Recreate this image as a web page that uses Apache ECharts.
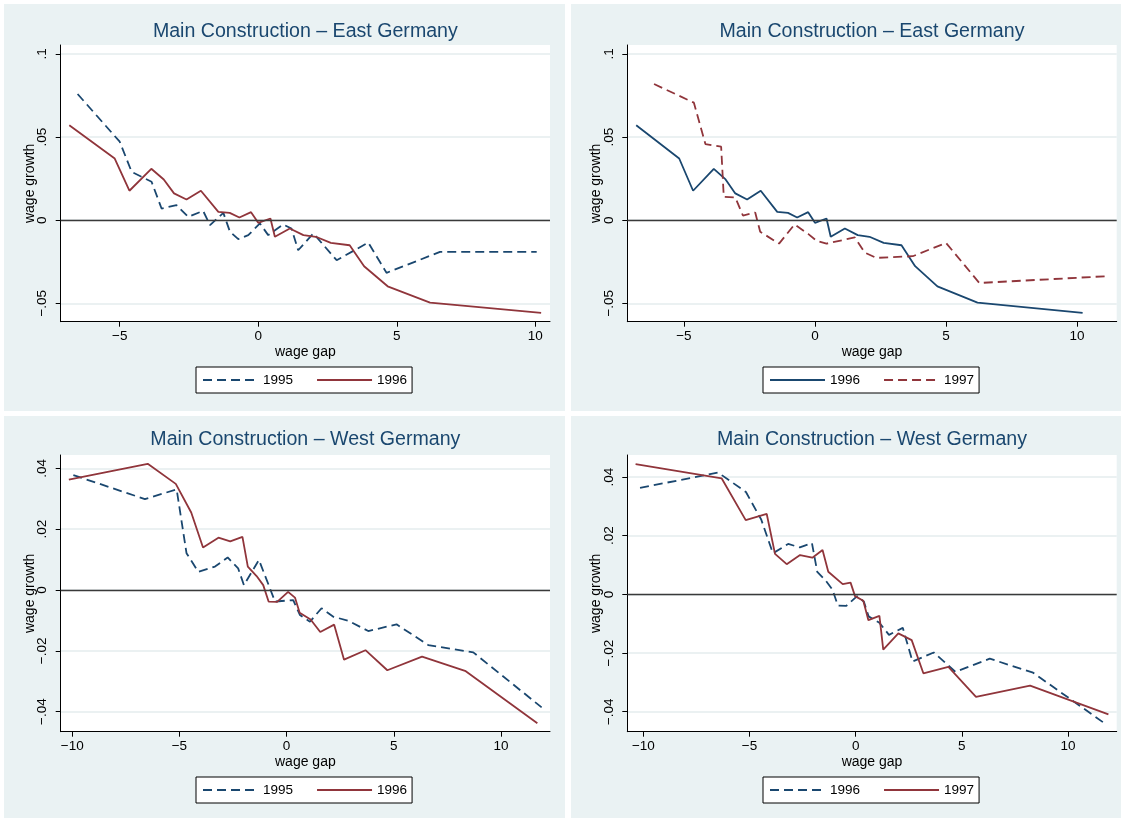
<!DOCTYPE html>
<html>
<head>
<meta charset="utf-8">
<title>Main Construction - wage growth</title>
<script src="https://cdn.jsdelivr.net/npm/echarts/dist/echarts.min.js"></script>
<style>
    html, body { margin: 0; padding: 0; background: #fff; }
    body { width: 1121px; height: 818px; position: relative; overflow: hidden; }
    .panel { position: absolute; background: #eaf2f3; }
</style>
</head>
<body>
<div class="panel" id="eastA" style="left:4px;top:4px;width:561px;height:407px"></div>
<div class="panel" id="eastB" style="left:571px;top:4px;width:550px;height:407px"></div>
<div class="panel" id="westA" style="left:4px;top:416px;width:561px;height:402px"></div>
<div class="panel" id="westB" style="left:571px;top:416px;width:550px;height:402px"></div>

<script>
// East Germany, 1995
var east95Gap = [-6.52, -5.00, -4.57, -3.85, -3.49, -2.95, -2.53, -1.99, -1.74, -1.26, -1.02, -0.72, -0.36, 0.06, 0.36, 0.90, 1.20, 1.44, 1.99, 2.83, 3.97, 4.63, 6.56, 10.05];
var east95Growth = [0.0759, 0.0472, 0.0291, 0.0231, 0.0070, 0.0090, 0.0020, 0.0056, -0.0030, 0.0044, -0.0070, -0.0114, -0.0090, -0.0020, -0.0090, -0.0026, -0.0050, -0.0181, -0.0080, -0.0241, -0.0135, -0.0317, -0.0191, -0.0191];

// East Germany, 1996
var east96Gap = [-6.82, -5.18, -4.65, -3.86, -3.41, -3.04, -2.59, -2.07, -1.44, -1.03, -0.68, -0.26, 0.00, 0.44, 0.60, 1.14, 1.63, 2.08, 2.62, 3.30, 3.82, 4.67, 6.20, 10.21];
var east96Growth = [0.0571, 0.0371, 0.0177, 0.0309, 0.0245, 0.0161, 0.0124, 0.0177, 0.0050, 0.0044, 0.0016, 0.0048, -0.0016, 0.0010, -0.0100, -0.0050, -0.0090, -0.0100, -0.0137, -0.0151, -0.0277, -0.0398, -0.0496, -0.0558];

// East Germany, 1997
var east97Gap = [-6.14, -4.62, -4.18, -3.58, -3.48, -3.04, -2.75, -2.28, -2.09, -1.37, -0.78, -0.25, 0.06, 0.44, 1.52, 1.90, 2.34, 3.73, 5.00, 6.27, 11.14];
var east97Growth = [0.0819, 0.0707, 0.0458, 0.0442, 0.0141, 0.0137, 0.0028, 0.0046, -0.0070, -0.0141, -0.0026, -0.0084, -0.0124, -0.0141, -0.0104, -0.0195, -0.0227, -0.0217, -0.0137, -0.0378, -0.0337];

// West Germany, 1995
var west95Gap = [-9.95, -6.61, -5.13, -4.67, -4.12, -3.34, -2.75, -2.26, -1.99, -1.29, -0.54, 0.31, 0.62, 1.09, 1.63, 2.18, 2.88, 3.81, 5.13, 6.61, 8.71, 11.90];
var west95Growth = [0.0378, 0.0299, 0.0331, 0.0121, 0.0060, 0.0077, 0.0107, 0.0071, 0.0016, 0.0099, -0.0038, -0.0033, -0.0082, -0.0104, -0.0060, -0.0088, -0.0101, -0.0135, -0.0113, -0.0181, -0.0205, -0.0386];

// West Germany, 1996
var west96Gap = [-10.16, -6.48, -5.17, -4.45, -3.90, -3.18, -2.63, -2.06, -1.81, -1.40, -1.09, -0.84, -0.44, 0.07, 0.39, 0.61, 1.12, 1.57, 2.22, 2.68, 3.68, 4.70, 6.32, 8.36, 11.70];
var west96Growth = [0.0363, 0.0415, 0.0349, 0.0255, 0.0140, 0.0172, 0.0160, 0.0175, 0.0077, 0.0046, 0.0016, -0.0038, -0.0039, -0.0006, -0.0025, -0.0075, -0.0097, -0.0138, -0.0114, -0.0229, -0.0198, -0.0264, -0.0219, -0.0267, -0.0438];

// West Germany, 1997
var west97Gap = [-10.37, -6.31, -5.18, -4.19, -3.80, -3.25, -2.62, -2.04, -1.56, -1.29, -0.61, -0.24, -0.03, 0.36, 0.60, 1.12, 1.30, 2.01, 2.64, 3.19, 4.37, 5.67, 8.22, 11.91];
var west97Growth = [0.0444, 0.0395, 0.0253, 0.0274, 0.0138, 0.0103, 0.0134, 0.0125, 0.0151, 0.0077, 0.0035, 0.0040, -0.0006, -0.0022, -0.0088, -0.0073, -0.0188, -0.0133, -0.0156, -0.0269, -0.0247, -0.0349, -0.0311, -0.0409];

// tick labels
var eastXTicks = [-5, 0, 5, 10];
var eastYTicks = [-0.05, 0, 0.05, 0.1];
var westXTicks = [-10, -5, 0, 5, 10];
var westYTicks = [-0.04, -0.02, 0, 0.02, 0.04];

var NAVY = '#1a476f';
var MAROON = '#90353b';
var FONT = '"Liberation Sans", Arial, sans-serif';

// stata style labels: .05, -.05, 0
function stataLabel(v) {
    if (Math.abs(v) < 1e-9) return '0';
    var s = String(Math.abs(v)).replace(/^0\./, '.');
    return (v < 0 ? '\u2212' : '') + s;
}

function zip(xs, ys) {
    var out = [];
    for (var i = 0; i < xs.length; i++) {
        out.push([xs[i], ys[i]]);
    }
    return out;
}

function initPanel(p) {
    var chart = echarts.init(document.getElementById(p.id));
    var series = [];
    var names = [];
    for (var i = 0; i < p.lines.length; i++) {
        var ln = p.lines[i];
        names.push(ln.name);
        series.push({
            name: ln.name,
            type: 'line',
            data: zip(ln.gap, ln.growth),
            symbol: 'none',
            showSymbol: false,
            z: 3 + i,
            itemStyle: { color: ln.color },
            lineStyle: { color: ln.color, width: 1.8, type: ln.dashed ? [9, 5] : 'solid' }
        });
    }
    // horizontal line at zero
    series[0].markLine = {
        silent: true,
        symbol: 'none',
        label: { show: false },
        lineStyle: { color: '#3a3a3a', width: 1.4, type: 'solid' },
        data: [{ yAxis: 0 }]
    };

    var option = {
        animation: false,
        title: {
            text: p.title,
            left: p.grid.left + p.grid.width / 2,
            top: p.titleTop,
            padding: 0,
            textAlign: 'center',
            textStyle: { color: NAVY, fontSize: 19.6, fontWeight: 'normal', fontFamily: FONT }
        },
        legend: {
            data: names,
            left: 192,
            top: p.legendTop,
            itemWidth: 55,
            itemHeight: 16,
            itemGap: 23,
            padding: [6, 5, 6, 6],
            backgroundColor: '#fff',
            borderColor: '#000',
            borderWidth: 1,
            borderRadius: 0,
            // hide the marker dot, keep only the line sample
            itemStyle: { opacity: 0 },
            textStyle: { color: '#000', fontSize: 13.5, fontFamily: FONT }
        },
        grid: {
            left: p.grid.left,
            top: p.grid.top,
            width: p.grid.width,
            height: p.grid.height,
            backgroundColor: '#fff',
            show: true,
            borderWidth: 0
        },
        xAxis: {
            type: 'value',
            min: p.xMin,
            max: p.xMax,
            name: 'wage gap',
            nameLocation: 'middle',
            nameGap: 23,
            nameMoveOverlap: false,
            nameTextStyle: { color: '#000', fontSize: 14, fontFamily: FONT },
            axisLine: { show: true, onZero: false, lineStyle: { color: '#000', width: 1 } },
            axisTick: { show: true, length: 5, customValues: p.xTicks, lineStyle: { color: '#000' } },
            axisLabel: { customValues: p.xTicks, formatter: stataLabel, color: '#000', fontSize: 13.5, margin: 8, fontFamily: FONT },
            splitLine: { show: false }
        },
        yAxis: {
            type: 'value',
            min: p.yMin,
            max: p.yMax,
            name: 'wage growth',
            nameLocation: 'middle',
            nameRotate: 90,
            nameGap: 24,
            nameMoveOverlap: false,
            nameTextStyle: { color: '#000', fontSize: 14, fontFamily: FONT },
            axisLine: { show: true, onZero: false, lineStyle: { color: '#000', width: 1 } },
            axisTick: { show: true, length: 5, customValues: p.yTicks, lineStyle: { color: '#000' } },
            axisLabel: { customValues: p.yTicks, formatter: stataLabel, rotate: 90, color: '#000', fontSize: 13.5, margin: 11, fontFamily: FONT },
            splitLine: { show: true, lineStyle: { color: '#e4ecee', width: 1.5 } }
        },
        series: series
    };
    chart.setOption(option);
}

initPanel({
    id: 'eastA',
    title: 'Main Construction \u2013 East Germany',
    titleTop: 18,
    legendTop: 363,
    grid: { left: 56.7, top: 41, width: 489.3, height: 276.7 },
    xMin: -7.13, xMax: 10.53, yMin: -0.0611, yMax: 0.1054,
    xTicks: eastXTicks, yTicks: eastYTicks,
    lines: [
        { name: '1995', gap: east95Gap, growth: east95Growth, color: NAVY, dashed: true },
        { name: '1996', gap: east96Gap, growth: east96Growth, color: MAROON, dashed: false }
    ]
});

initPanel({
    id: 'eastB',
    title: 'Main Construction \u2013 East Germany',
    titleTop: 18,
    legendTop: 363,
    grid: { left: 56.3, top: 41, width: 489.4, height: 276.7 },
    xMin: -7.16, xMax: 11.51, yMin: -0.0611, yMax: 0.1054,
    xTicks: eastXTicks, yTicks: eastYTicks,
    lines: [
        { name: '1996', gap: east96Gap, growth: east96Growth, color: NAVY, dashed: false },
        { name: '1997', gap: east97Gap, growth: east97Growth, color: MAROON, dashed: true }
    ]
});

initPanel({
    id: 'westA',
    title: 'Main Construction \u2013 West Germany',
    titleTop: 14,
    legendTop: 361,
    grid: { left: 56.7, top: 39, width: 489.3, height: 276.7 },
    xMin: -10.54, xMax: 12.29, yMin: -0.0466, yMax: 0.0444,
    xTicks: westXTicks, yTicks: westYTicks,
    lines: [
        { name: '1995', gap: west95Gap, growth: west95Growth, color: NAVY, dashed: true },
        { name: '1996', gap: west96Gap, growth: west96Growth, color: MAROON, dashed: false }
    ]
});

initPanel({
    id: 'westB',
    title: 'Main Construction \u2013 West Germany',
    titleTop: 14,
    legendTop: 361,
    grid: { left: 56.3, top: 39, width: 489.4, height: 276.7 },
    xMin: -10.76, xMax: 12.30, yMin: -0.0468, yMax: 0.0475,
    xTicks: westXTicks, yTicks: westYTicks,
    lines: [
        { name: '1996', gap: west96Gap, growth: west96Growth, color: NAVY, dashed: true },
        { name: '1997', gap: west97Gap, growth: west97Growth, color: MAROON, dashed: false }
    ]
});
</script>
</body>
</html>
